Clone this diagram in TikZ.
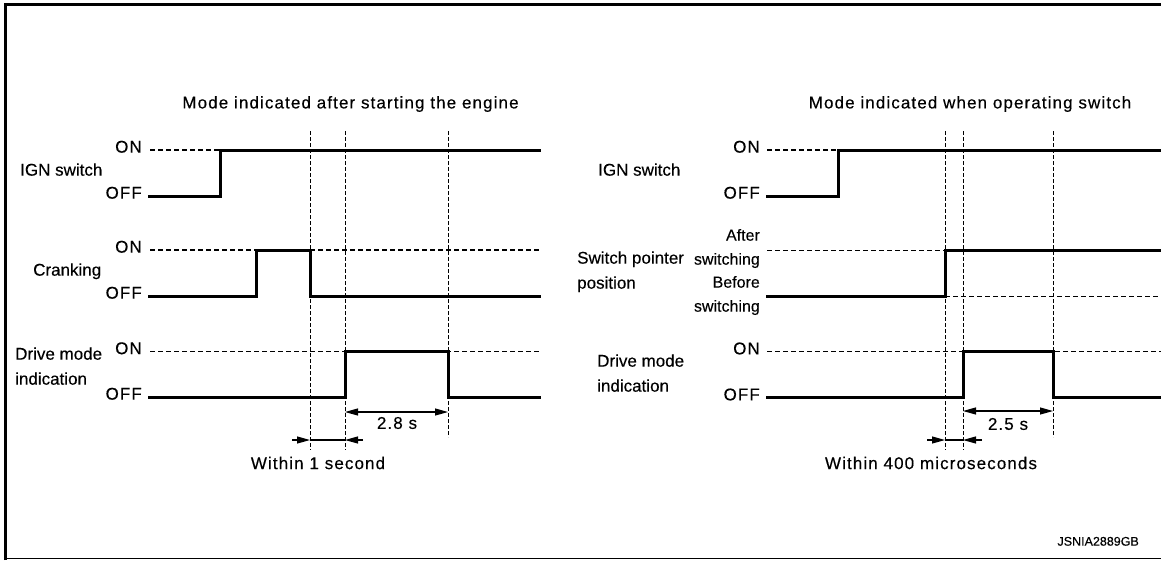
\documentclass[tikz,border=0pt]{standalone}
\usepackage{fontspec}
\setmainfont[FakeBold=0.3]{Liberation Sans}
\newfontfamily\trk[LetterSpace=6.5,FakeBold=0.3]{Liberation Sans}
\usetikzlibrary{arrows.meta}
\begin{document}
\begin{tikzpicture}[x=1pt,y=-1pt,
  sig/.style={line width=3pt, line join=miter},
  lvl/.style={line width=1.1pt, dash pattern=on 5pt off 3pt},
  vgrid/.style={line width=1pt, dash pattern=on 4pt off 2pt},
  dimarrow/.style={line width=1.1pt, -{Triangle[length=13pt,width=7pt]}},
  dimboth/.style={line width=1.1pt, {Triangle[length=13pt,width=7pt]}-{Triangle[length=13pt,width=7pt]}},
  lab/.style={font=\fontsize{17}{19}\selectfont, inner sep=0pt},
  slab/.style={font=\fontsize{16}{18}\selectfont, inner sep=0pt},
  tlab/.style={font=\fontsize{17}{19}\selectfont\trk, inner sep=0pt},
  small/.style={font=\fontsize{12.5}{14}\selectfont, inner sep=0pt},
]
\useasboundingbox (0,0) rectangle (1161,560);
% frame
\draw[line width=3pt] (5.5,560) -- (5.5,4.5) -- (1161,4.5);
\draw[line width=1.3pt] (4,558.7) -- (1161,558.7);

% ================= LEFT PANEL =================
\node[tlab] (titleL) at (350.5,104) {Mode indicated after starting the engine};
\node[lab, anchor=mid west] (ignL) at (20,173) {IGN switch};
\node[lab, anchor=mid west] (crkL) at (33,273) {Cranking};
\node[lab, anchor=mid west] (drvL) at (15,357) {Drive mode};
\node[lab, anchor=mid west] (indL) at (15,382) {indication};

\node[tlab, anchor=mid east] (onA) at (142,150) {ON};
\node[tlab, anchor=mid east] (offA) at (142,196) {OFF};
\node[tlab, anchor=mid east] (onB) at (142,250) {ON};
\node[tlab, anchor=mid east] (offB) at (142,296) {OFF};
\node[tlab, anchor=mid east] (onC) at (142,351.5) {ON};
\node[tlab, anchor=mid east] (offC) at (142,397) {OFF};

% vertical guides
\coordinate (vL1t) at (310,131); \coordinate (vL1b) at (310,450);
\coordinate (vL2t) at (345,131); \coordinate (vL2b) at (345,450);
\coordinate (vL3t) at (448,131); \coordinate (vL3b) at (448,437);
\draw[vgrid] (vL1t) -- (vL1b);
\draw[vgrid] (vL2t) -- (vL2b);
\draw[vgrid] (vL3t) -- (vL3b);

% level dashes
\draw[lvl] (150,150) -- (220,150);
\draw[lvl] (150,250) -- (541,250);
\draw[lvl] (150,351.5) -- (541,351.5);

% signals
\draw[sig] (148,196) -- (220,196) -- (220,150) -- (541,150);
\draw[sig] (148,296) -- (256,296) -- (256,250) -- (310,250) -- (310,296) -- (541,296);
\draw[sig] (148,397) -- (345,397) -- (345,351.5) -- (448,351.5) -- (448,397) -- (541,397);

% dimensions
\draw[dimboth] (345,412) -- (448,412);
\node[tlab] (t28) at (397,423) {2.8 s};
\coordinate (aL1) at (292,440); \coordinate (aL2) at (363,440);
\coordinate (aL1e) at (310,440); \coordinate (aL2e) at (345,440);
\draw[dimarrow] (aL1) -- (aL1e);
\draw[dimarrow] (aL2) -- (aL2e);
\draw[line width=1.1pt] (aL1e) -- (aL2e);
\node[tlab] (w1) at (318,463) {Within 1 second};

% ================= RIGHT PANEL =================
\node[tlab] (titleR) at (970,104) {Mode indicated when operating switch};
\node[lab, anchor=mid west] (ignR) at (598,173) {IGN switch};
\node[lab, anchor=mid west] (swpR) at (577,261) {Switch pointer};
\node[lab, anchor=mid west] (posR) at (577,286) {position};
\node[lab, anchor=mid west] (drvR) at (597,364) {Drive mode};
\node[lab, anchor=mid west] (indR) at (597,389) {indication};

\node[tlab, anchor=mid east] (onD) at (760,150) {ON};
\node[tlab, anchor=mid east] (offD) at (760,196) {OFF};
\node[slab, anchor=mid east] (aft) at (760,238) {After};
\node[slab, anchor=mid east] (sw1) at (760,262) {switching};
\node[slab, anchor=mid east] (bef) at (760,285) {Before};
\node[slab, anchor=mid east] (sw2) at (760,309) {switching};
\node[tlab, anchor=mid east] (onE) at (760,351.7) {ON};
\node[tlab, anchor=mid east] (offE) at (760,397.7) {OFF};

\coordinate (vR1t) at (945,131); \coordinate (vR1b) at (945,450);
\coordinate (vR2t) at (963,131); \coordinate (vR2b) at (963,450);
\coordinate (vR3t) at (1053,131); \coordinate (vR3b) at (1053,437);
\draw[vgrid] (vR1t) -- (vR1b);
\draw[vgrid] (vR2t) -- (vR2b);
\draw[vgrid] (vR3t) -- (vR3b);

\draw[lvl] (767,150) -- (838,150);
\draw[lvl] (767,250.5) -- (945,250.5);
\draw[lvl] (945,296.7) -- (1161,296.7);
\draw[lvl] (767,351.7) -- (1161,351.7);

\draw[sig] (766,196) -- (838,196) -- (838,150) -- (1161,150);
\draw[sig] (766,296.7) -- (945,296.7) -- (945,250.5) -- (1161,250.5);
\draw[sig] (766,397.7) -- (963,397.7) -- (963,351.7) -- (1053,351.7) -- (1053,397.7) -- (1161,397.7);

\draw[dimboth] (963,411) -- (1053,411);
\node[tlab] (t25) at (1008,424) {2.5 s};
\coordinate (aR1) at (927,440); \coordinate (aR2) at (982,440);
\coordinate (aR1e) at (945,440); \coordinate (aR2e) at (963,440);
\draw[dimarrow] (aR1) -- (aR1e);
\draw[dimarrow] (aR2) -- (aR2e);
\draw[line width=1.1pt] (aR1e) -- (aR2e);
\node[tlab] (w2) at (931,463) {Within 400 microseconds};

\node[small, anchor=mid east] (code) at (1139,543) {JSNIA2889GB};
\end{tikzpicture}
\end{document}
